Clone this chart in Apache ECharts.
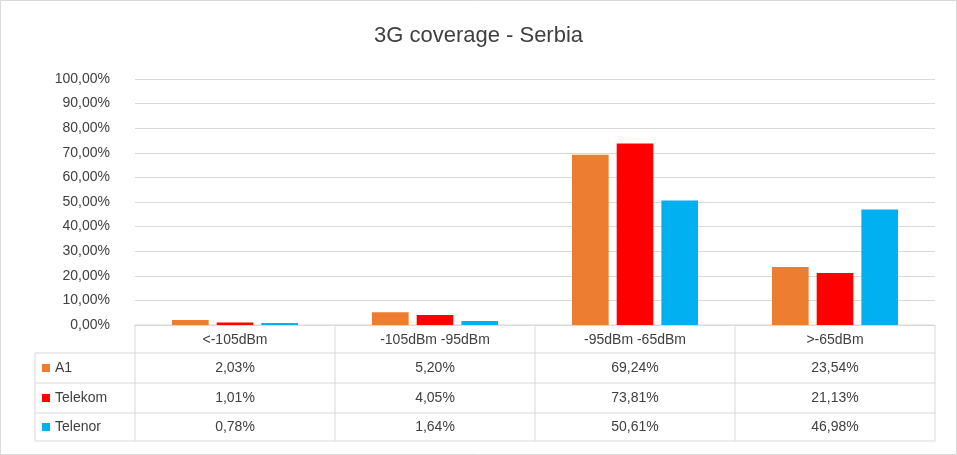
<!DOCTYPE html>
<html>
<head>
<meta charset="utf-8">
<script src="https://cdn.jsdelivr.net/npm/echarts@6/dist/echarts.min.js"></script>
<style>html,body{margin:0;padding:0;background:#fff}#chart{width:957px;height:455px}</style>
</head>
<body>
<div id="chart"></div>
<script>
var categories = ["<-105dBm", "-105dBm -95dBm", "-95dBm -65dBm", ">-65dBm"];
var seriesNames = ["A1", "Telekom", "Telenor"];
var seriesColors = ["#ED7D31", "#FF0000", "#00B0F0"];
var a1 = [2.03, 5.20, 69.24, 23.54];
var telekom = [1.01, 4.05, 73.81, 21.13];
var telenor = [0.78, 1.64, 50.61, 46.98];
var allData = [a1, telekom, telenor];

var gridLeft = 135, gridRight = 935, gridTop = 79, gridBottom = 325;
var rowH = [28, 30, 30, 28];
var tableLeft = 35;
var fmt = function (v) { return v.toFixed(2).replace(".", ",") + "%"; };
var lineStyle = { stroke: "#D9D9D9", lineWidth: 1 };
var font = "14px 'Liberation Sans', Arial, sans-serif";

var graphics = [];
graphics.push({ type: "rect", shape: { x: 0.5, y: 0.5, width: 956, height: 454 }, style: { fill: "none", stroke: "#D9D9D9" } });
var colW = (gridRight - gridLeft) / categories.length;
var y = gridBottom;
var yRows = [y];
for (var r = 0; r < rowH.length; r++) { y += rowH[r]; yRows.push(y); }
// horizontal lines
for (var r = 0; r < yRows.length; r++) {
    var x0 = r == 0 ? gridLeft : tableLeft;
    graphics.push({ type: "line", shape: { x1: x0, y1: yRows[r], x2: gridRight, y2: yRows[r] }, style: lineStyle });
}
// vertical lines
graphics.push({ type: "line", shape: { x1: tableLeft, y1: yRows[1], x2: tableLeft, y2: yRows[4] }, style: lineStyle });
for (var c = 0; c <= categories.length; c++) {
    var xx = gridLeft + c * colW;
    graphics.push({ type: "line", shape: { x1: xx, y1: yRows[0], x2: xx, y2: yRows[4] }, style: lineStyle });
}
// rows
for (var s = 0; s < seriesNames.length; s++) {
    var cy = (yRows[s + 1] + yRows[s + 2]) / 2;
    graphics.push({ type: "rect", shape: { x: 42, y: cy - 4, width: 8, height: 8 }, style: { fill: seriesColors[s] } });
    graphics.push({ type: "text", x: 55, y: cy, style: { text: seriesNames[s], font: font, fill: "#404040", verticalAlign: "middle" } });
    for (var c = 0; c < categories.length; c++) {
        graphics.push({ type: "text", x: gridLeft + (c + 0.5) * colW, y: cy, style: { text: fmt(allData[s][c]), font: font, fill: "#404040", align: "center", verticalAlign: "middle" } });
    }
}

var chart = echarts.init(document.getElementById("chart"));
chart.setOption({
    animation: false,
    title: { text: "3G coverage - Serbia", left: "center", top: 20, textStyle: { fontFamily: "Liberation Sans, Arial", fontSize: 22, fontWeight: "normal", color: "#404040" } },
    grid: { left: gridLeft, right: 957 - gridRight, top: gridTop, bottom: 455 - gridBottom },
    xAxis: {
        type: "category", data: categories,
        axisLine: { lineStyle: { color: "#D9D9D9" } }, axisTick: { show: false },
        axisLabel: { color: "#404040", fontSize: 14, fontFamily: "Liberation Sans, Arial", margin: 8 }
    },
    yAxis: {
        type: "value", min: 0, max: 100, interval: 10,
        axisLine: { show: false }, axisTick: { show: false },
        splitLine: { lineStyle: { color: "#D9D9D9" } },
        axisLabel: { color: "#404040", fontSize: 14, fontFamily: "Liberation Sans, Arial", formatter: fmt, margin: 25 }
    },
    series: seriesNames.map(function (n, i) {
        return { name: n, type: "bar", data: allData[i], itemStyle: { color: seriesColors[i] }, barGap: "22%", barCategoryGap: "37%" };
    }),
    graphic: graphics
});
</script>
</body>
</html>
